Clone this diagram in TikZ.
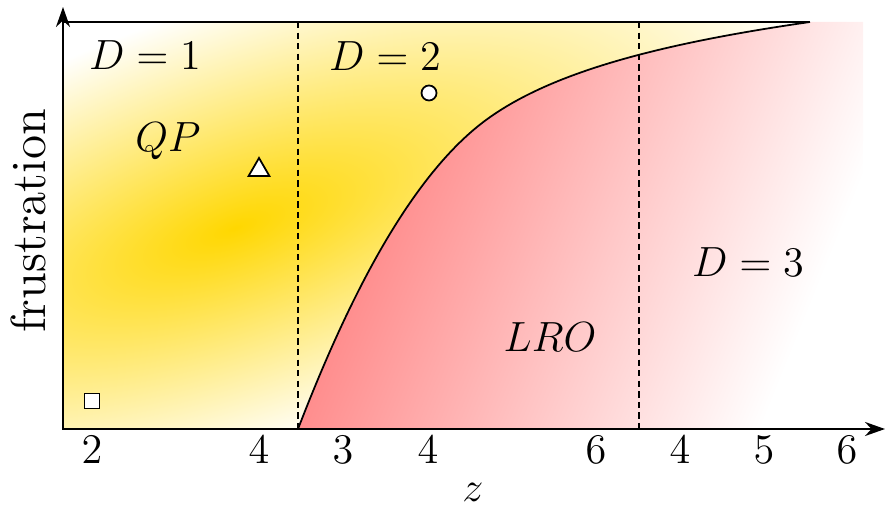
\documentclass[tikz,border=0pt]{standalone}
\usetikzlibrary{arrows.meta,shapes.geometric}
\definecolor{qpyellow}{RGB}{255,215,0}
\def\lrocurve{(298,429) .. controls (340,320) and (400,190) .. (477,127) .. controls (540,75.5) and (650,45) .. (810,22)}
\begin{document}
\begin{tikzpicture}[x=0.01cm,y=-0.01cm,font=\large,
  marker/.style={draw,fill=white,line width=0.5pt,inner sep=0pt},
  border/.style={line width=0.4pt,dash pattern=on 1.8pt off 1.2pt}]
\useasboundingbox (0,0) rectangle (886,507);
% QP region, D=1 and D=2
\begin{scope}
\clip (63,22) rectangle (810,429);
\begin{scope}[transform canvas={shift={(235,228)},rotate=20}]
\shade[inner color=qpyellow,outer color=white] (0,0) ellipse (600 and 220);
\end{scope}
\end{scope}
% LRO region
\begin{scope}
\clip \lrocurve -- (863,22) -- (863,429) -- cycle;
\begin{scope}[transform canvas={rotate=-22}]
\shade[left color=red!45,middle color=red!28,right color=white] (432,-330) rectangle (866,310);
\end{scope}
\end{scope}
\draw[line width=0.5pt] \lrocurve;
\draw[border] (298,22) -- (298,429);
\draw[border] (639,22) -- (639,429);
\draw[line width=0.5pt] (63,22) -- (810,22);
\draw[line width=0.7pt,{Stealth[length=2mm,width=1.4mm]}-{Stealth[length=2mm,width=1.4mm]}] (63,7) -- (63,429) -- (885,429);
% data points
\node[marker,rectangle,minimum size=0.15cm] (sq) at (92,401) {};
\node[marker,regular polygon,regular polygon sides=3,minimum size=0.24cm] (tri) at (259,170) {};
\node[marker,circle,minimum size=0.15cm] (circ) at (429,93) {};
% labels
\node[anchor=base] (d1) at (145,70) {$D=1$};
\node[anchor=base] (d2) at (385,71) {$D=2$};
\node[anchor=base] (d3) at (748,277) {$D=3$};
\node[anchor=base] (qp) at (168,152) {$QP$};
\node[anchor=base] (lro) at (550,352) {$LRO$};
\foreach \x/\n [count=\i] in {92/2,259/4,343/3,428/4,596/6,680/4,764/5,847/6}
  \node[anchor=base] (t\i) at (\x,463) {$\n$};
\node[anchor=base] (zlab) at (473,501) {$z$};
\node[rotate=90,font=\fontsize{14}{16}\selectfont] (flab) at (28,221) {frustration};
\end{tikzpicture}
\end{document}
